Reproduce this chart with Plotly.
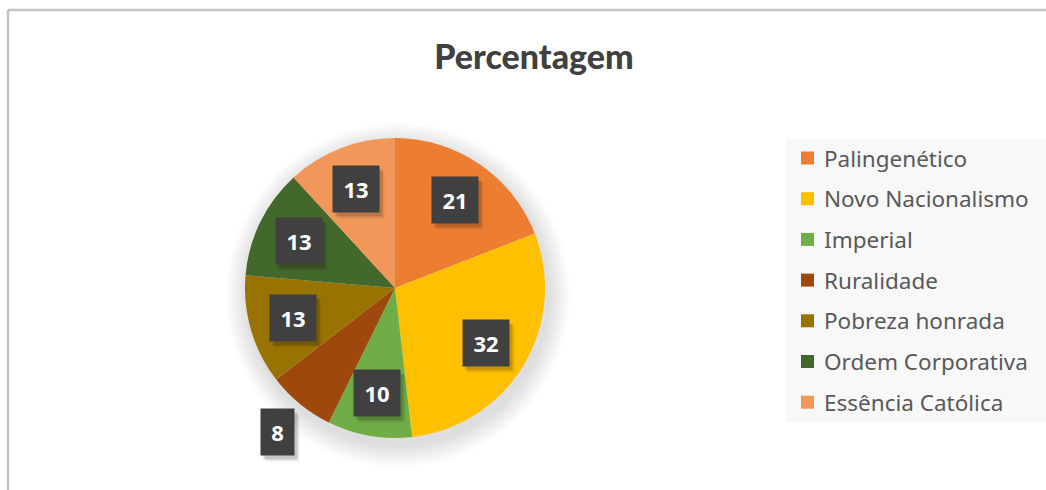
import math
import plotly.graph_objects as go

# Categories and their values
categories = [
    "Palingenético",
    "Novo Nacionalismo",
    "Imperial",
    "Ruralidade",
    "Pobreza honrada",
    "Ordem Corporativa",
    "Essência Católica",
]
values = [21, 32, 10, 8, 13, 13, 13]
colors = ["#ED7D31", "#FFC000", "#70AD47", "#9E480E", "#997300", "#43682B", "#F1975A"]
title_text = "Percentagem"

# Canvas and layout geometry (pixels)
W, H = 1046, 490
CX, CY, R = 395, 288, 150
LABEL_R = 0.71          # relative radius of data labels
OUTSIDE_R = {"Ruralidade": 1.24}  # labels pushed outside the pie


def px(x):
    return x / W


def py(y):
    return 1 - y / H


fig = go.Figure()
fig.add_trace(go.Pie(
    labels=categories,
    values=values,
    sort=False,
    direction="clockwise",
    rotation=0,
    marker=dict(colors=colors, line=dict(width=0)),
    textinfo="none",
    hoverinfo="label+value",
    showlegend=False,
    domain=dict(x=[px(CX - R), px(CX + R)], y=[py(CY + R), py(CY - R)]),
))

shapes = []
annotations = []

# Chart frame
shapes.append(dict(type="line", xref="paper", yref="paper", x0=px(8), x1=px(W + 5),
                   y0=py(10), y1=py(10), line=dict(color="#C4C4C4", width=2.5)))
shapes.append(dict(type="line", xref="paper", yref="paper", x0=px(8), x1=px(8),
                   y0=py(10), y1=py(H + 5), line=dict(color="#C4C4C4", width=2.5)))

# Soft shadow under the pie, built from stacked translucent discs
for k in range(22, 0, -2):
    shapes.append(dict(type="circle", xref="paper", yref="paper", layer="below",
                       x0=px(CX + 3 - R - k), x1=px(CX + 3 + R + k),
                       y0=py(CY + 7 + R + k), y1=py(CY + 7 - R - k),
                       fillcolor="rgba(0,0,0,0.011)", line=dict(width=0)))

# Data labels in dark boxes
total = sum(values)
cum = 0
for name, v in zip(categories, values):
    mid = (cum + v / 2) / total
    cum += v
    theta = 2 * math.pi * mid
    rr = OUTSIDE_R.get(name, LABEL_R) * R
    lx = CX + rr * math.sin(theta)
    ly = CY - rr * math.cos(theta)
    txt = str(v)
    bw = 13 * len(txt) + 4
    for dx, dy, col in [(5, 6, "rgba(0,0,0,0.07)"), (3, 4, "rgba(0,0,0,0.16)")]:
        annotations.append(dict(x=px(lx + dx), y=py(ly + dy), xref="paper", yref="paper",
                                xanchor="center", yanchor="middle",
                                text=" ", showarrow=False, width=bw, height=30,
                                borderpad=8, bgcolor=col,
                                font=dict(size=22, color="rgba(0,0,0,0)")))
    annotations.append(dict(x=px(lx), y=py(ly), xref="paper", yref="paper",
                            xanchor="center", yanchor="middle",
                            text=txt, showarrow=False, width=bw, height=30,
                            borderpad=8, bgcolor="#404040", align="center", valign="middle",
                            font=dict(family="Open Sans", size=22, color="white", weight=700)))

# Legend
LG_X0, LG_Y0, LG_X1, LG_Y1 = 786, 139, W, 422
shapes.append(dict(type="rect", xref="paper", yref="paper", layer="below",
                   x0=px(LG_X0), x1=px(LG_X1), y0=py(LG_Y1), y1=py(LG_Y0),
                   fillcolor="#F8F8F8", line=dict(width=0)))
row0, step = 158, 40.7
for i, (name, col) in enumerate(zip(categories, colors)):
    yc = row0 + i * step
    shapes.append(dict(type="rect", xref="paper", yref="paper",
                       x0=px(801), x1=px(814), y0=py(yc + 6.5), y1=py(yc - 6.5),
                       fillcolor=col, line=dict(width=0)))
    annotations.append(dict(x=px(822), y=py(yc), xref="paper", yref="paper",
                            text=name, showarrow=False, xanchor="left", yanchor="middle",
                            font=dict(family="Noto Sans", size=22.5, color="#595959")))

fig.update_layout(
    width=W, height=H,
    margin=dict(l=0, r=0, t=0, b=0),
    paper_bgcolor="white",
    plot_bgcolor="white",
    title=dict(text=title_text, x=534 / W, xanchor="center", y=py(57), yanchor="middle",
               font=dict(family="Lato", size=34, color="#404040", weight=900)),
    shapes=shapes,
    annotations=annotations,
)

fig.write_html("out.html")
